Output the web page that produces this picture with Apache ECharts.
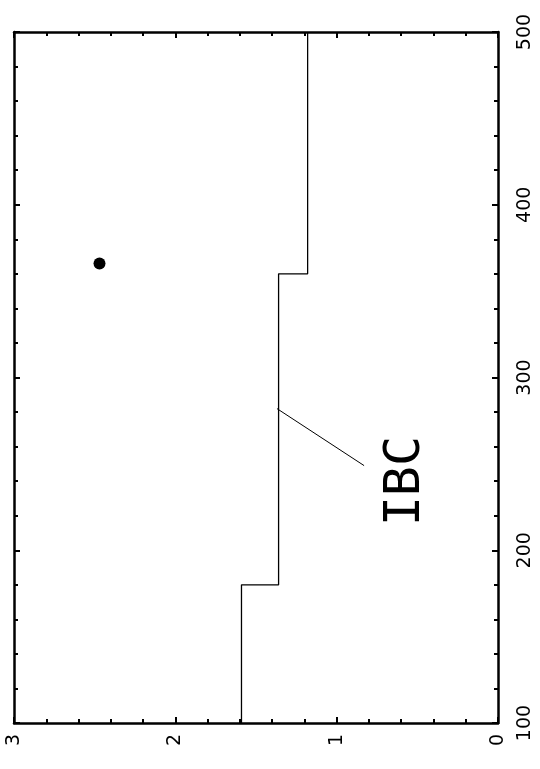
<!DOCTYPE html>
<html>
<head>
<meta charset="utf-8">
<script src="https://cdn.jsdelivr.net/npm/echarts@6/dist/echarts.min.js"></script>
<style>
  html, body { margin: 0; padding: 0; background: #fff; }
  #chart { width: 540px; height: 769px; }
</style>
</head>
<body>
<div id="chart"></div>
<script>
// Step profile: level values between consecutive edges along the vertical axis
const stepEdges = [100, 180, 360, 500];
const stepLevels = [1.59, 1.36, 1.18];

// Single measured point
const pointValue = [2.47, 366];

// Leader line from the step curve to the "IBC" label, and the label anchor
const leaderStart = [1.37, 282];
const leaderEnd = [0.83, 249];
const labelText = 'IBC';
const labelAnchor = [0.57, 240];

// Axis ranges and tick labels
const valueTicks = [0, 1, 2, 3];
const edgeTicks = [100, 200, 300, 400, 500];

// Build the step polyline from edges and levels
const stepPoints = [];
stepLevels.forEach(function (lv, i) {
  stepPoints.push([lv, stepEdges[i]]);
  stepPoints.push([lv, stepEdges[i + 1]]);
});

const axisLineStyle = { color: '#000', width: 2.5 };
const font = 'DejaVu Sans';

function hAxis(pos, showLabel) {
  return {
    type: 'value', position: pos,
    min: valueTicks[0], max: valueTicks[valueTicks.length - 1], interval: 1,
    inverse: true,
    axisLine: { show: true, onZero: false, lineStyle: axisLineStyle },
    axisTick: { show: true, inside: true, length: 6, lineStyle: { color: '#000', width: 2 } },
    minorTick: { show: true, splitNumber: 5, length: 4, lineStyle: { color: '#000', width: 2 } },
    splitLine: { show: false },
    axisLabel: {
      show: showLabel, rotate: 90, margin: 11,
      color: '#000', fontFamily: font, fontSize: 19
    }
  };
}
function vAxis(pos, showLabel) {
  return {
    type: 'value', position: pos,
    min: edgeTicks[0], max: edgeTicks[edgeTicks.length - 1], interval: 100,
    axisLine: { show: true, onZero: false, lineStyle: axisLineStyle },
    axisTick: { show: true, inside: true, length: 6, lineStyle: { color: '#000', width: 2 } },
    minorTick: { show: true, splitNumber: 5, length: 4, lineStyle: { color: '#000', width: 2 } },
    splitLine: { show: false },
    axisLabel: {
      show: showLabel, rotate: 90, margin: 18,
      color: '#000', fontFamily: font, fontSize: 19
    }
  };
}

const chart = echarts.init(document.getElementById('chart'), null, { renderer: 'canvas' });
chart.setOption({
  animation: false,
  backgroundColor: '#fff',
  grid: { left: 14, right: 42, top: 32, bottom: 46, containLabel: false },
  xAxis: [hAxis('bottom', true), hAxis('top', false)],
  yAxis: [vAxis('right', true), vAxis('left', false)],
  series: [
    {
      type: 'line', data: stepPoints, xAxisIndex: 0, yAxisIndex: 0,
      symbol: 'none', lineStyle: { color: '#000', width: 1.3 }
    },
    {
      type: 'line', data: [leaderStart, leaderEnd], xAxisIndex: 0, yAxisIndex: 0,
      symbol: 'none', lineStyle: { color: '#000', width: 1 }
    },
    {
      type: 'scatter', data: [pointValue], xAxisIndex: 0, yAxisIndex: 0,
      symbol: 'circle', symbolSize: 12, itemStyle: { color: '#000', opacity: 1 }
    },
    {
      type: 'scatter', data: [labelAnchor], xAxisIndex: 0, yAxisIndex: 0,
      symbolSize: 0, itemStyle: { opacity: 1 },
      label: {
        show: true, position: 'inside', rotate: 90,
        formatter: labelText, color: '#000', opacity: 1,
        fontFamily: 'DejaVu Sans Mono', fontSize: 50
      }
    }
  ]
});
</script>
</body>
</html>
